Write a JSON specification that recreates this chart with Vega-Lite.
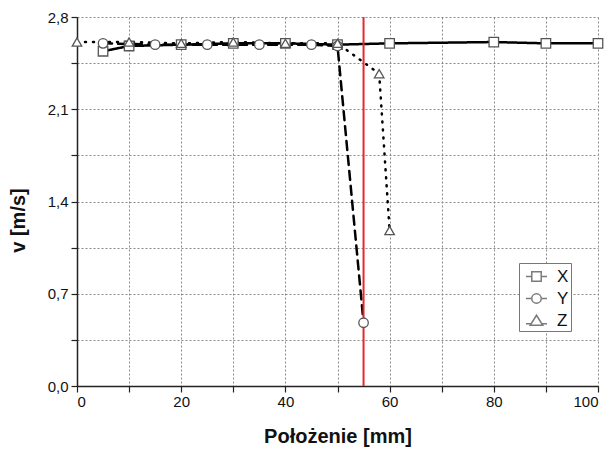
{
  "$schema": "https://vega.github.io/schema/vega-lite/v6.json",
  "width": 521,
  "height": 369,
  "autosize": {"type": "none"},
  "padding": {"left": 77, "top": 17, "right": 17, "bottom": 65},
  "background": "white",
  "config": {
    "view": {"stroke": null},
    "font": "Liberation Sans",
    "axis": {
      "labelFont": "Liberation Sans",
      "titleFont": "Liberation Sans",
      "labelFontSize": 15,
      "labelColor": "#111",
      "titleFontSize": 20,
      "titleFontWeight": "bold",
      "titleColor": "#111",
      "domainColor": "#222",
      "domainWidth": 1.5,
      "tickColor": "#222",
      "tickWidth": 1.2,
      "gridColor": "#888",
      "gridDash": [2, 2],
      "gridWidth": 1
    }
  },
  "resolve": {
    "scale": {"shape": "independent"},
    "legend": {"shape": "independent", "strokeDash": "independent"}
  },
  "datasets": {
    "series": [
      {"pos": 5, "v": 2.54, "s": "X"},
      {"pos": 10, "v": 2.58, "s": "X"},
      {"pos": 20, "v": 2.59, "s": "X"},
      {"pos": 30, "v": 2.60, "s": "X"},
      {"pos": 40, "v": 2.60, "s": "X"},
      {"pos": 50, "v": 2.59, "s": "X"},
      {"pos": 60, "v": 2.60, "s": "X"},
      {"pos": 80, "v": 2.61, "s": "X"},
      {"pos": 90, "v": 2.60, "s": "X"},
      {"pos": 100, "v": 2.60, "s": "X"},
      {"pos": 5, "v": 2.60, "s": "Y"},
      {"pos": 15, "v": 2.59, "s": "Y"},
      {"pos": 25, "v": 2.59, "s": "Y"},
      {"pos": 35, "v": 2.59, "s": "Y"},
      {"pos": 45, "v": 2.59, "s": "Y"},
      {"pos": 50, "v": 2.58, "s": "Y"},
      {"pos": 55, "v": 0.48, "s": "Y"},
      {"pos": 0, "v": 2.61, "s": "Z"},
      {"pos": 10, "v": 2.61, "s": "Z"},
      {"pos": 20, "v": 2.60, "s": "Z"},
      {"pos": 30, "v": 2.61, "s": "Z"},
      {"pos": 40, "v": 2.60, "s": "Z"},
      {"pos": 50, "v": 2.60, "s": "Z"},
      {"pos": 58, "v": 2.37, "s": "Z"},
      {"pos": 60, "v": 1.18, "s": "Z"}
    ],
    "marker": [{"pos": 55}]
  },
  "layer": [
    {
      "data": {"name": "series"},
      "mark": {"type": "line", "color": "black", "strokeWidth": 2.5, "strokeCap": "round"},
      "encoding": {
        "x": {
          "field": "pos", "type": "quantitative",
          "scale": {"domain": [0, 100], "nice": false},
          "axis": {
            "title": "Położenie  [mm]",
            "titlePadding": 17,
            "values": [0, 10, 20, 30, 40, 50, 60, 70, 80, 90, 100],
            "labelExpr": "datum.value % 20 == 0 ? datum.label : ''",
            "tickSize": 6,
            "labelPadding": 2
          }
        },
        "y": {
          "field": "v", "type": "quantitative",
          "scale": {"domain": [0, 2.8], "nice": false},
          "axis": {
            "title": "v  [m/s]",
            "titlePadding": 19,
            "titleY": 203,
            "values": [0, 0.35, 0.7, 1.05, 1.4, 1.75, 2.1, 2.45, 2.8],
            "labelExpr": "round(datum.value / 0.35) % 2 == 0 ? replace(format(datum.value, '.1f'), '.', ',') : ''",
            "tickSize": 6,
            "labelPadding": 3
          }
        },
        "detail": {"field": "s"},
        "strokeDash": {
          "field": "s", "type": "nominal",
          "scale": {"domain": ["X", "Y", "Z"], "range": [[1, 0], [9, 6], [1, 7]]},
          "legend": null
        }
      }
    },
    {
      "data": {"name": "marker"},
      "mark": {"type": "rule", "color": "#e8262b", "strokeWidth": 2},
      "encoding": {
        "x": {"field": "pos", "type": "quantitative"}
      }
    },
    {
      "data": {"name": "series"},
      "mark": {"type": "point", "filled": true, "fill": "white", "stroke": "#555", "strokeWidth": 1.3, "size": 90, "opacity": 1},
      "encoding": {
        "x": {"field": "pos", "type": "quantitative"},
        "y": {"field": "v", "type": "quantitative"},
        "shape": {
          "field": "s", "type": "nominal",
          "scale": {"domain": ["X", "Y", "Z"], "range": ["square", "circle", "triangle-up"]},
          "legend": null
        }
      }
    },
    {
      "data": {"name": "series"},
      "mark": {"type": "point", "filled": true, "fill": "white", "stroke": "#444", "strokeWidth": 1.4, "size": 0},
      "encoding": {
        "x": {"field": "pos", "type": "quantitative"},
        "y": {"field": "v", "type": "quantitative"},
        "shape": {
          "field": "s", "type": "nominal",
          "scale": {
            "domain": ["X", "Y", "Z"],
            "range": [
              "M-1,0H-0.45M0.45,0H1M-0.45,-0.45H0.45V0.45H-0.45Z",
              "M-1,0H-0.45M0.45,0H1M-0.45,0A0.45,0.45 0 1,0 0.45,0A0.45,0.45 0 1,0 -0.45,0Z",
              "M-1,0.3H-0.55M0.55,0.3H1M0,-0.5L0.6,0.45L-0.6,0.45Z"
            ]
          },
          "legend": {
            "title": null,
            "orient": "none",
            "legendX": 442,
            "legendY": 246,
            "strokeColor": "#777",
            "fillColor": "white",
            "padding": 2,
            "symbolOffset": 4,
            "labelFontSize": 17,
            "labelFont": "Liberation Sans",
            "labelColor": "#111",
            "symbolSize": 441,
            "rowPadding": 2,
            "labelOffset": 9,
            "encode": {
              "symbols": {
                "update": {
                  "stroke": {"value": "#444"},
                  "strokeWidth": {"value": 1.4},
                  "fill": {"value": "white"},
                  "opacity": {"value": 1},
                  "size": {"value": 441}
                }
              }
            }
          }
        }
      }
    }
  ]
}
